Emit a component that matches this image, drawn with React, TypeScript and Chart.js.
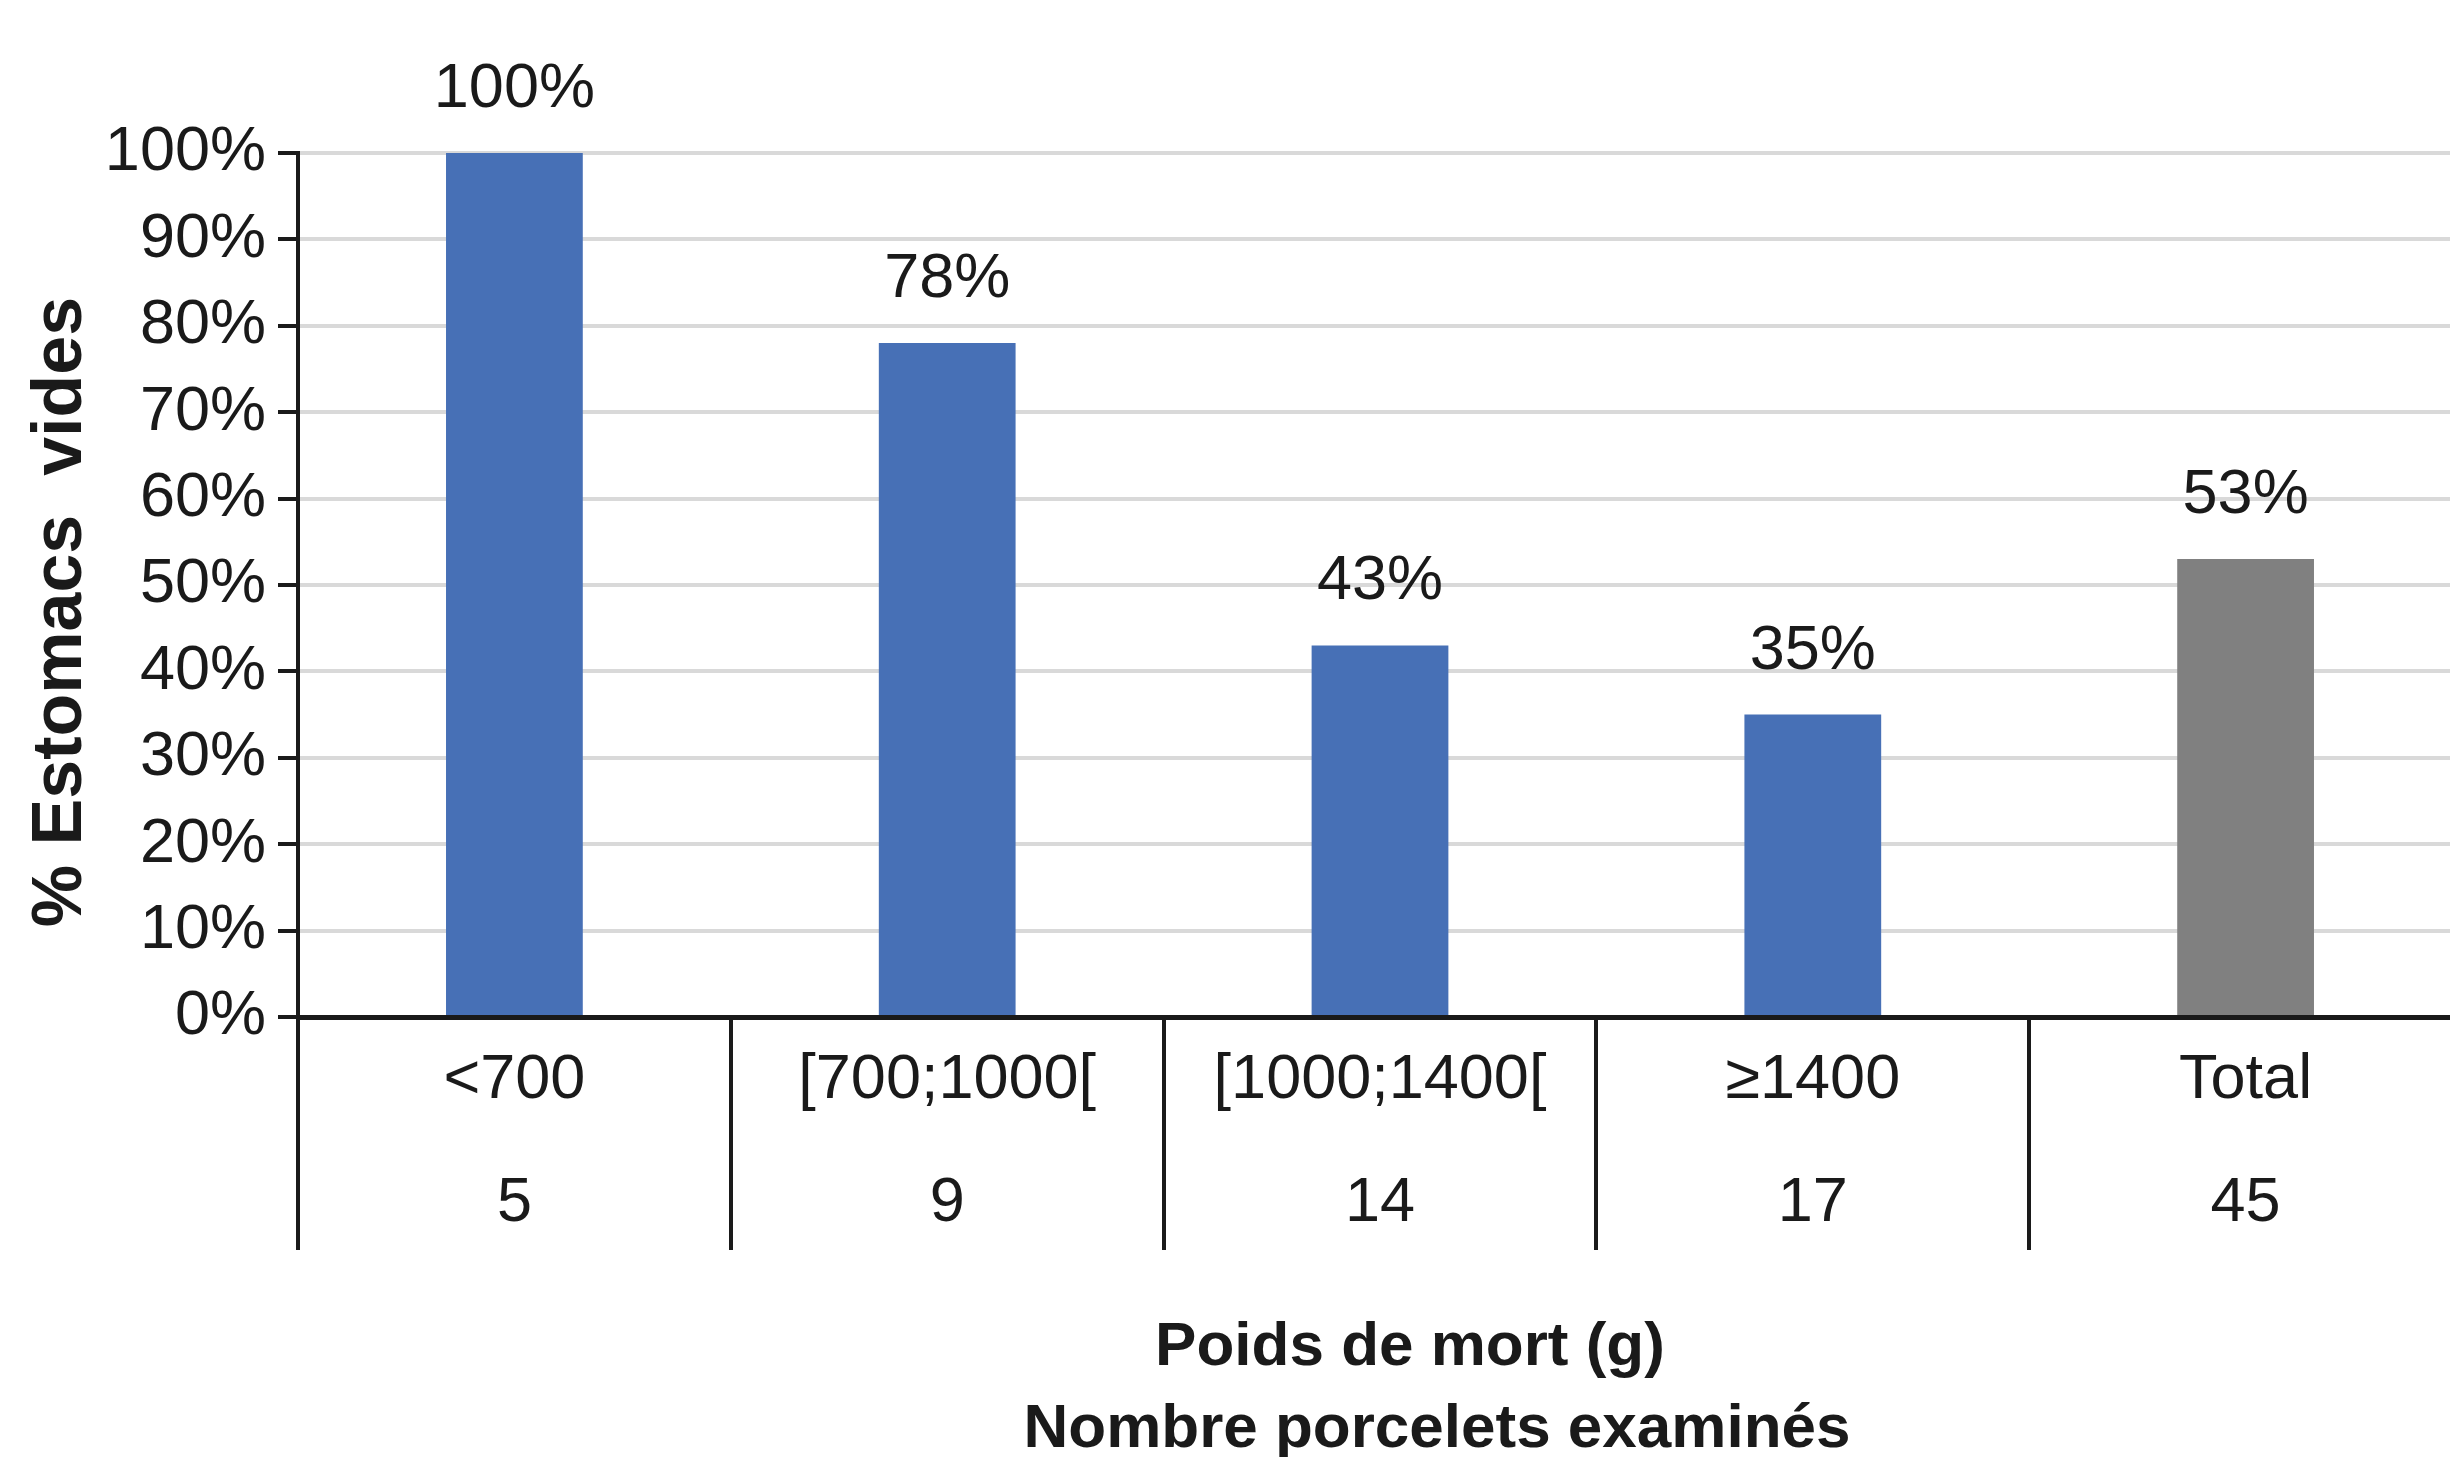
import React, { useEffect, useRef } from "react";
import { Chart, registerables } from "chart.js";

Chart.register(...registerables);

const categories = ["<700", "[700;1000[", "[1000;1400[", "≥1400", "Total"];
const counts = ["5", "9", "14", "17", "45"];
const values = [100, 78, 43, 35, 53];
const barColors = ["#4770b6", "#4770b6", "#4770b6", "#4770b6", "#808080"];
const yTicks = [0, 10, 20, 30, 40, 50, 60, 70, 80, 90, 100];
const xTitle = ["Poids de mort (g)", "Nombre porcelets examinés"];
const yTitle = "% Estomacs  vides";

const NARROW = "'Liberation Sans Narrow', 'Liberation Sans', Arial, sans-serif";
const SANS = "'Liberation Sans', Arial, sans-serif";
const INK = "#1a1a1a";

const labelPlugin = {
  id: "customText",
  afterDatasetsDraw(chart: any) {
    const ctx = chart.ctx;
    const meta = chart.getDatasetMeta(0);
    ctx.save();
    ctx.fillStyle = INK;
    ctx.font = `63px ${NARROW}`;
    ctx.textAlign = "center";
    ctx.textBaseline = "alphabetic";
    meta.data.forEach((bar: any, i: number) => {
      ctx.fillText(values[i] + "%", bar.x, bar.y - 46);
    });
    ctx.restore();
  },
  afterDraw(chart: any) {
    const ctx = chart.ctx;
    const area = chart.chartArea;
    ctx.save();
    ctx.fillStyle = INK;
    ctx.font = `bold 62px ${SANS}`;
    ctx.textAlign = "center";
    ctx.textBaseline = "alphabetic";
    ctx.fillText(xTitle[0], 1410, area.bottom + 348);
    ctx.fillText(xTitle[1], 1437, area.bottom + 430);
    ctx.font = `bold 70px ${SANS}`;
    ctx.translate(81, 612);
    ctx.rotate(-Math.PI / 2);
    ctx.fillText(yTitle, 0, 0);
    ctx.restore();
  },
};

export default function App() {
  const ref = useRef<HTMLCanvasElement>(null);
  useEffect(() => {
    if (!ref.current) return;
    const chart = new Chart(ref.current, {
      type: "bar",
      data: {
        labels: categories,
        datasets: [
          {
            data: values,
            backgroundColor: barColors,
            borderWidth: 0,
            categoryPercentage: 1,
            barPercentage: 0.316,
          },
        ],
      },
      options: {
        animation: false,
        responsive: false,
        devicePixelRatio: 1,
        layout: { padding: { top: 153, right: 0, left: 0, bottom: 0 } },
        plugins: {
          legend: { display: false },
          tooltip: { enabled: false },
          title: { display: false },
        },
        scales: {
          x: {
            type: "category",
            afterFit: (s: any) => {
              s.height = 440;
            },
            grid: {
              display: true,
              offset: true,
              drawOnChartArea: false,
              drawTicks: true,
              tickLength: 233,
              tickWidth: 4,
              tickColor: INK,
              color: INK,
              lineWidth: 4,
            },
            border: { display: true, color: INK, width: 5 },
            ticks: {
              padding: -230,
              color: INK,
              font: { family: NARROW, size: 63, lineHeight: 1.94 },
              maxRotation: 0,
              autoSkip: false,
              callback: (_v: any, i: number) => [categories[i], counts[i]],
            },
          },
          y: {
            min: 0,
            max: 100,
            afterFit: (s: any) => {
              s.width = 298;
            },
            afterBuildTicks: (s: any) => {
              s.ticks = yTicks.map((v) => ({ value: v }));
            },
            grid: {
              color: "#d9d9d9",
              lineWidth: 4,
              tickColor: INK,
              tickLength: 20,
              tickWidth: 4,
            },
            border: { display: true, color: INK, width: 4 },
            ticks: {
              padding: 12,
              color: INK,
              font: { family: NARROW, size: 63 },
              callback: (v: any) => v + "%",
            },
          },
        },
      },
      plugins: [labelPlugin],
    });
    return () => chart.destroy();
  }, []);
  return (
    <div
      style={{
        position: "absolute",
        left: 0,
        top: 0,
        width: 2450,
        height: 1457,
        overflow: "hidden",
        background: "#ffffff",
      }}
    >
      <canvas ref={ref} width={2462} height={1457} style={{ display: "block" }} />
    </div>
  );
}
